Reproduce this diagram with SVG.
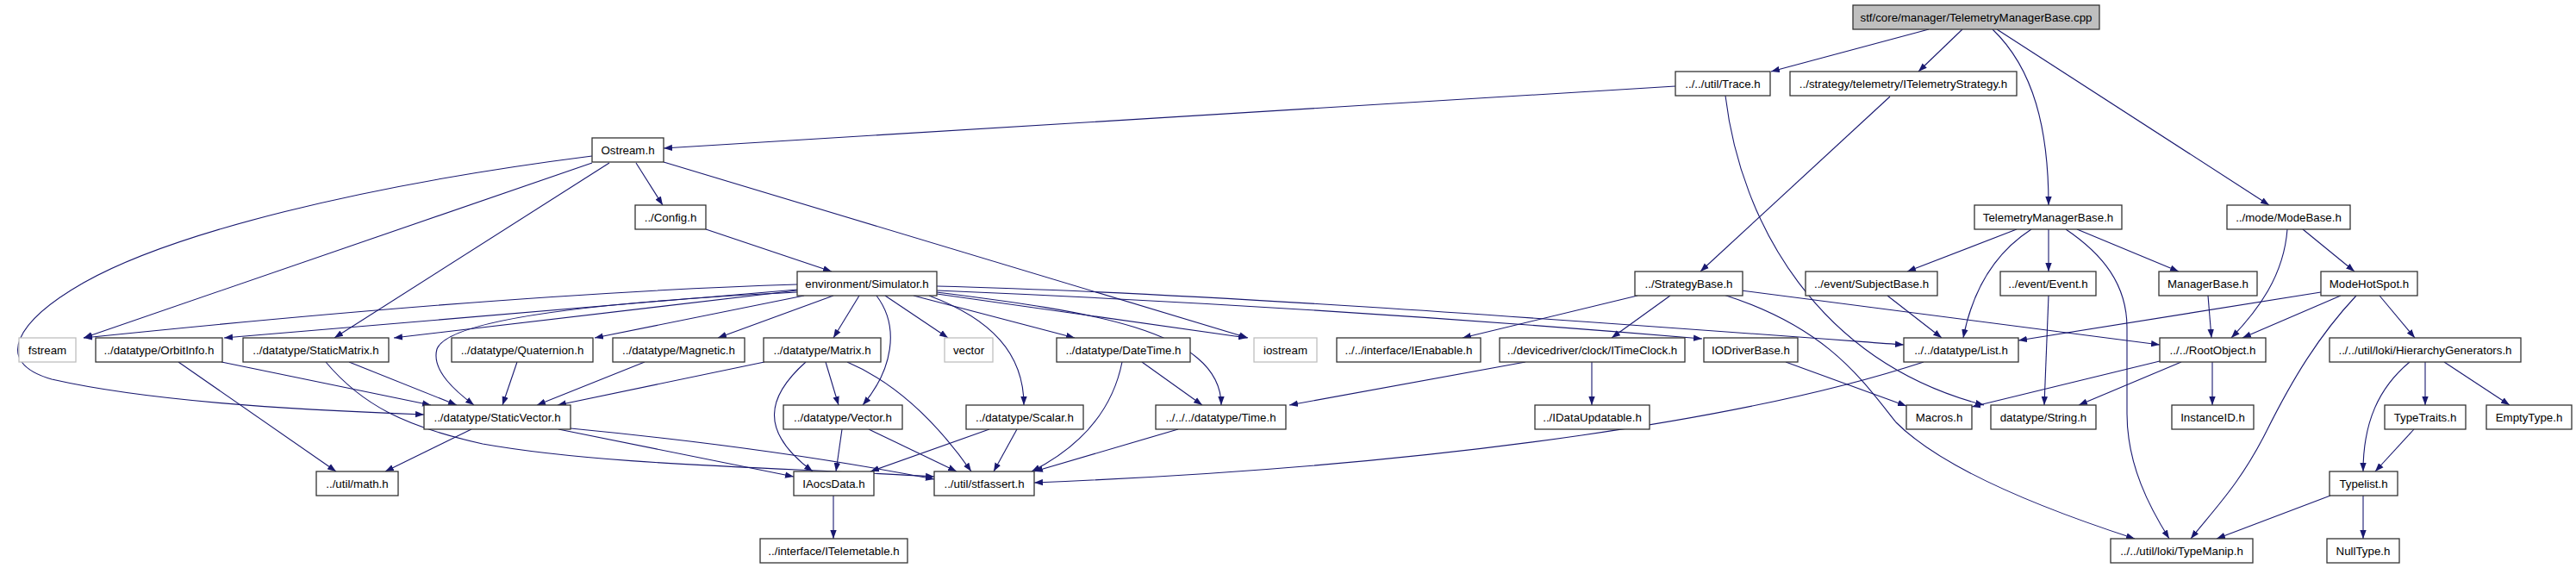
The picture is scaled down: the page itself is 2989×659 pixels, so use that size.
<svg xmlns="http://www.w3.org/2000/svg" width="2989" height="659" viewBox="0 0 2989 659">
<defs>
<marker id="a" markerWidth="10" markerHeight="8" refX="10" refY="4" orient="auto" markerUnits="userSpaceOnUse"><path d="M0,0.3 L10,4 L0,7.7 z" fill="#191970"/></marker>
<style>
.n rect{fill:#fff;stroke:#333;stroke-width:1.3}
.g rect{fill:#fff;stroke:#bfbfbf;stroke-width:1.3}
.r rect{fill:#bfbfbf;stroke:#333;stroke-width:1.3}
text{font-family:"Liberation Sans",Arial,sans-serif;font-size:13.3px;fill:#000;text-anchor:middle}
#edges path{fill:none;stroke:#191970;stroke-width:1.1;marker-end:url(#a)}
</style>
</defs>
<rect width="2989" height="659" fill="#fff"/>
<g id="edges">
<path d="M2238,34 L2055,83"/>
<path d="M2277,34 L2226,83"/>
<path d="M2312,34 C2360,80 2377,150 2377,238"/>
<path d="M2317,34 L2633,238"/>
<path d="M1944,100 L770,172"/>
<path d="M2002,111 C2020,260 2110,420 2302,470"/>
<path d="M2193,112 L1973,315"/>
<path d="M738,189 L769,238"/>
<path d="M687,189 L97,392"/>
<path d="M707,189 L388,392"/>
<path d="M687,181 C420,215 200,270 97,328 C20,372 -10,420 60,440 C170,465 330,475 492,481"/>
<path d="M770,188 L1448,392"/>
<path d="M819,266 L965,315"/>
<path d="M925,330 Q600,340 97,392"/>
<path d="M925,336 L260,392"/>
<path d="M925,337 L457,392"/>
<path d="M925,339 C700,350 520,370 507,405 C500,430 530,455 550,470"/>
<path d="M933,343 L690,392"/>
<path d="M967,343 L833,392"/>
<path d="M997,343 L967,392"/>
<path d="M1017,343 C1045,380 1035,430 1001,470"/>
<path d="M1027,343 L1100,392"/>
<path d="M1078,343 C1150,370 1188,410 1188,470"/>
<path d="M1060,343 L1247,392"/>
<path d="M1087,339 C1250,360 1417,380 1417,470"/>
<path d="M1087,341 L1447,392"/>
<path d="M1087,332 C1400,340 1800,370 2209,400"/>
<path d="M1087,337 C1400,350 1700,370 1975,393"/>
<path d="M1900,343 L1697,392"/>
<path d="M1938,343 L1870,392"/>
<path d="M2020,337 L2506,400"/>
<path d="M2000,342 C2120,380 2160,440 2200,490 C2260,550 2400,600 2477,625"/>
<path d="M1770,420 L1496,470"/>
<path d="M1847,420 L1847,470"/>
<path d="M2072,420 L2212,471"/>
<path d="M2340,266 L2213,315"/>
<path d="M2357,266 C2320,290 2290,330 2278,392"/>
<path d="M2377,266 L2377,315"/>
<path d="M2397,266 C2440,295 2468,330 2468,380 L2468,480 C2468,540 2495,590 2517,625"/>
<path d="M2410,266 L2528,315"/>
<path d="M2190,343 L2253,392"/>
<path d="M2377,343 L2372,470"/>
<path d="M2562,343 L2566,392"/>
<path d="M2654,266 C2650,320 2620,360 2589,392"/>
<path d="M2672,266 L2732,315"/>
<path d="M2693,339 L2342,395"/>
<path d="M2716,343 L2602,392"/>
<path d="M2734,343 C2690,390 2660,440 2630,500 C2600,560 2570,590 2542,625"/>
<path d="M2761,343 L2802,392"/>
<path d="M2506,419 L2288,472"/>
<path d="M2531,420 L2412,470"/>
<path d="M2567,420 L2567,470"/>
<path d="M2796,420 C2760,450 2742,490 2742,547"/>
<path d="M2814,420 L2814,470"/>
<path d="M2836,420 L2912,470"/>
<path d="M2801,498 L2756,547"/>
<path d="M2704,575 L2572,625"/>
<path d="M2742,575 L2742,625"/>
<path d="M2232,420 C2050,480 1700,540 1200,560"/>
<path d="M257,420 L500,470"/>
<path d="M207,420 L390,547"/>
<path d="M405,420 L530,470"/>
<path d="M378,420 C420,470 470,495 560,515 C700,540 900,542 1084,553"/>
<path d="M547,498 L447,547"/>
<path d="M648,498 L921,553"/>
<path d="M662,497 Q900,520 1084,556"/>
<path d="M600,420 L583,470"/>
<path d="M748,420 L623,470"/>
<path d="M887,420 L647,470"/>
<path d="M935,420 C890,460 880,500 943,547"/>
<path d="M958,420 L973,470"/>
<path d="M983,420 C1030,440 1080,480 1127,547"/>
<path d="M977,498 L970,547"/>
<path d="M1008,498 L1110,547"/>
<path d="M1148,498 L1010,547"/>
<path d="M1180,498 L1153,547"/>
<path d="M1302,420 C1290,480 1250,520 1197,547"/>
<path d="M1325,420 L1395,470"/>
<path d="M1367,498 L1200,547"/>
<path d="M967,575 L967,625"/>
</g>
<g id="root" class="r"><rect x="2150" y="6" width="286" height="28"/><text x="2293" y="25">stf/core/manager/TelemetryManagerBase.cpp</text></g>
<g id="trace" class="n"><rect x="1944" y="83" width="110" height="28"/><text x="1999" y="102">../../util/Trace.h</text></g>
<g id="itelemetrystrategy" class="n"><rect x="2077" y="83" width="263" height="28"/><text x="2208.5" y="102">../strategy/telemetry/ITelemetryStrategy.h</text></g>
<g id="ostream" class="n"><rect x="687" y="160" width="83" height="28"/><text x="728.5" y="179">Ostream.h</text></g>
<g id="config" class="n"><rect x="737" y="238" width="82" height="28"/><text x="778" y="257">../Config.h</text></g>
<g id="telemetrymanagerbase" class="n"><rect x="2291" y="238" width="171" height="28"/><text x="2376.5" y="257">TelemetryManagerBase.h</text></g>
<g id="modebase" class="n"><rect x="2584" y="238" width="143" height="28"/><text x="2655.5" y="257">../mode/ModeBase.h</text></g>
<g id="simulator" class="n"><rect x="925" y="315" width="162" height="28"/><text x="1006" y="334">environment/Simulator.h</text></g>
<g id="strategybase" class="n"><rect x="1897" y="315" width="125" height="28"/><text x="1959.5" y="334">../StrategyBase.h</text></g>
<g id="subjectbase" class="n"><rect x="2095" y="315" width="153" height="28"/><text x="2171.5" y="334">../event/SubjectBase.h</text></g>
<g id="event" class="n"><rect x="2321" y="315" width="111" height="28"/><text x="2376.5" y="334">../event/Event.h</text></g>
<g id="managerbase" class="n"><rect x="2505" y="315" width="114" height="28"/><text x="2562" y="334">ManagerBase.h</text></g>
<g id="modehotspot" class="n"><rect x="2693" y="315" width="112" height="28"/><text x="2749" y="334">ModeHotSpot.h</text></g>
<g id="fstream" class="g"><rect x="22" y="392" width="66" height="28"/><text x="55" y="411">fstream</text></g>
<g id="orbitinfo" class="n"><rect x="111" y="392" width="147" height="28"/><text x="184.5" y="411">../datatype/OrbitInfo.h</text></g>
<g id="staticmatrix" class="n"><rect x="282" y="392" width="169" height="28"/><text x="366.5" y="411">../datatype/StaticMatrix.h</text></g>
<g id="quaternion" class="n"><rect x="524" y="392" width="164" height="28"/><text x="606" y="411">../datatype/Quaternion.h</text></g>
<g id="magnetic" class="n"><rect x="711" y="392" width="153" height="28"/><text x="787.5" y="411">../datatype/Magnetic.h</text></g>
<g id="matrix" class="n"><rect x="886" y="392" width="136" height="28"/><text x="954" y="411">../datatype/Matrix.h</text></g>
<g id="vector" class="g"><rect x="1096" y="392" width="56" height="28"/><text x="1124" y="411">vector</text></g>
<g id="datetime" class="n"><rect x="1226" y="392" width="155" height="28"/><text x="1303.5" y="411">../datatype/DateTime.h</text></g>
<g id="iostream" class="g"><rect x="1455" y="392" width="73" height="28"/><text x="1491.5" y="411">iostream</text></g>
<g id="ienabable" class="n"><rect x="1551" y="392" width="167" height="28"/><text x="1634.5" y="411">../../interface/IEnabable.h</text></g>
<g id="itimeclock" class="n"><rect x="1740" y="392" width="215" height="28"/><text x="1847.5" y="411">../devicedriver/clock/ITimeClock.h</text></g>
<g id="iodriverbase" class="n"><rect x="1977" y="392" width="109" height="28"/><text x="2031.5" y="411">IODriverBase.h</text></g>
<g id="list" class="n"><rect x="2209" y="392" width="133" height="28"/><text x="2275.5" y="411">../../datatype/List.h</text></g>
<g id="rootobject" class="n"><rect x="2506" y="392" width="123" height="28"/><text x="2567.5" y="411">../../RootObject.h</text></g>
<g id="hierarchygenerators" class="n"><rect x="2703" y="392" width="222" height="28"/><text x="2814" y="411">../../util/loki/HierarchyGenerators.h</text></g>
<g id="staticvector" class="n"><rect x="492" y="470" width="170" height="28"/><text x="577" y="489">../datatype/StaticVector.h</text></g>
<g id="vectorh" class="n"><rect x="909" y="470" width="138" height="28"/><text x="978" y="489">../datatype/Vector.h</text></g>
<g id="scalar" class="n"><rect x="1121" y="470" width="136" height="28"/><text x="1189" y="489">../datatype/Scalar.h</text></g>
<g id="time" class="n"><rect x="1341" y="470" width="151" height="28"/><text x="1416.5" y="489">../../../datatype/Time.h</text></g>
<g id="idataupdatable" class="n"><rect x="1781" y="470" width="133" height="28"/><text x="1847.5" y="489">../IDataUpdatable.h</text></g>
<g id="macros" class="n"><rect x="2212" y="470" width="76" height="28"/><text x="2250" y="489">Macros.h</text></g>
<g id="string" class="n"><rect x="2310" y="470" width="122" height="28"/><text x="2371" y="489">datatype/String.h</text></g>
<g id="instanceid" class="n"><rect x="2520" y="470" width="95" height="28"/><text x="2567.5" y="489">InstanceID.h</text></g>
<g id="typetraits" class="n"><rect x="2767" y="470" width="94" height="28"/><text x="2814" y="489">TypeTraits.h</text></g>
<g id="emptytype" class="n"><rect x="2885" y="470" width="99" height="28"/><text x="2934.5" y="489">EmptyType.h</text></g>
<g id="math" class="n"><rect x="367" y="547" width="95" height="28"/><text x="414.5" y="566">../util/math.h</text></g>
<g id="iaocsdata" class="n"><rect x="921" y="547" width="93" height="28"/><text x="967.5" y="566">IAocsData.h</text></g>
<g id="stfassert" class="n"><rect x="1084" y="547" width="116" height="28"/><text x="1142" y="566">../util/stfassert.h</text></g>
<g id="typelist" class="n"><rect x="2703" y="547" width="79" height="28"/><text x="2742.5" y="566">Typelist.h</text></g>
<g id="itelemetable" class="n"><rect x="882" y="625" width="171" height="28"/><text x="967.5" y="644">../interface/ITelemetable.h</text></g>
<g id="typemanip" class="n"><rect x="2449" y="625" width="165" height="28"/><text x="2531.5" y="644">../../util/loki/TypeManip.h</text></g>
<g id="nulltype" class="n"><rect x="2700" y="625" width="84" height="28"/><text x="2742" y="644">NullType.h</text></g>
</svg>
